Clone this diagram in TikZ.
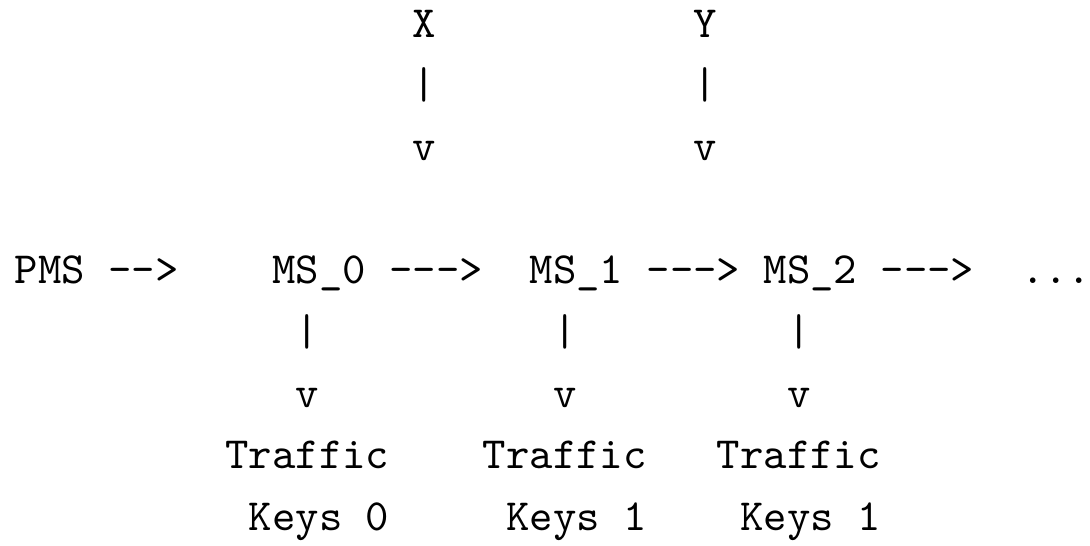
\documentclass[tikz,border=0pt]{standalone}
\usepackage{tikz}

\tikzset{
  txt/.style={font=\ttfamily, inner sep=0pt, anchor=base west}
}

\begin{document}
\begin{tikzpicture}[x=5.25pt, y=-13.84pt]
    \useasboundingbox (-0.598,-0.6) rectangle (45.98,8.237);

    % inputs on top
    \node[txt] (x)    at (17,0) {X};
    \node[txt] (xbar) at (17,1) {|};
    \node[txt] (xv)   at (17,2) {v};
    \node[txt] (y)    at (29,0) {Y};
    \node[txt] (ybar) at (29,1) {|};
    \node[txt] (yv)   at (29,2) {v};

    % main chain
    \node[txt] (pms)    at (0,4)  {PMS};
    \node[txt] (pmsarr) at (4,4)  {-{}->};
    \node[txt] (ms0)    at (11,4) {MS\_0};
    \node[txt] (arr0)   at (16,4) {-{}-{}->};
    \node[txt] (ms1)    at (22,4) {MS\_1};
    \node[txt] (arr1)   at (27,4) {-{}-{}->};
    \node[txt] (ms2)    at (32,4) {MS\_2};
    \node[txt] (arr2)   at (37,4) {-{}-{}->};
    \node[txt] (dots)   at (43,4) {...};

    % outputs below
    \foreach \i/\c/\t/\k in {0/12/9/0, 1/23/20/1, 2/33/30/1} {
        \node[txt] (bar\i)     at (\c,5) {|};
        \node[txt] (v\i)       at (\c,6) {v};
        \node[txt] (traffic\i) at (\t,7) {Traffic};
        \node[txt] (keys\i)    at (\t+1,8) {Keys \k};
    }
\end{tikzpicture}
\end{document}
